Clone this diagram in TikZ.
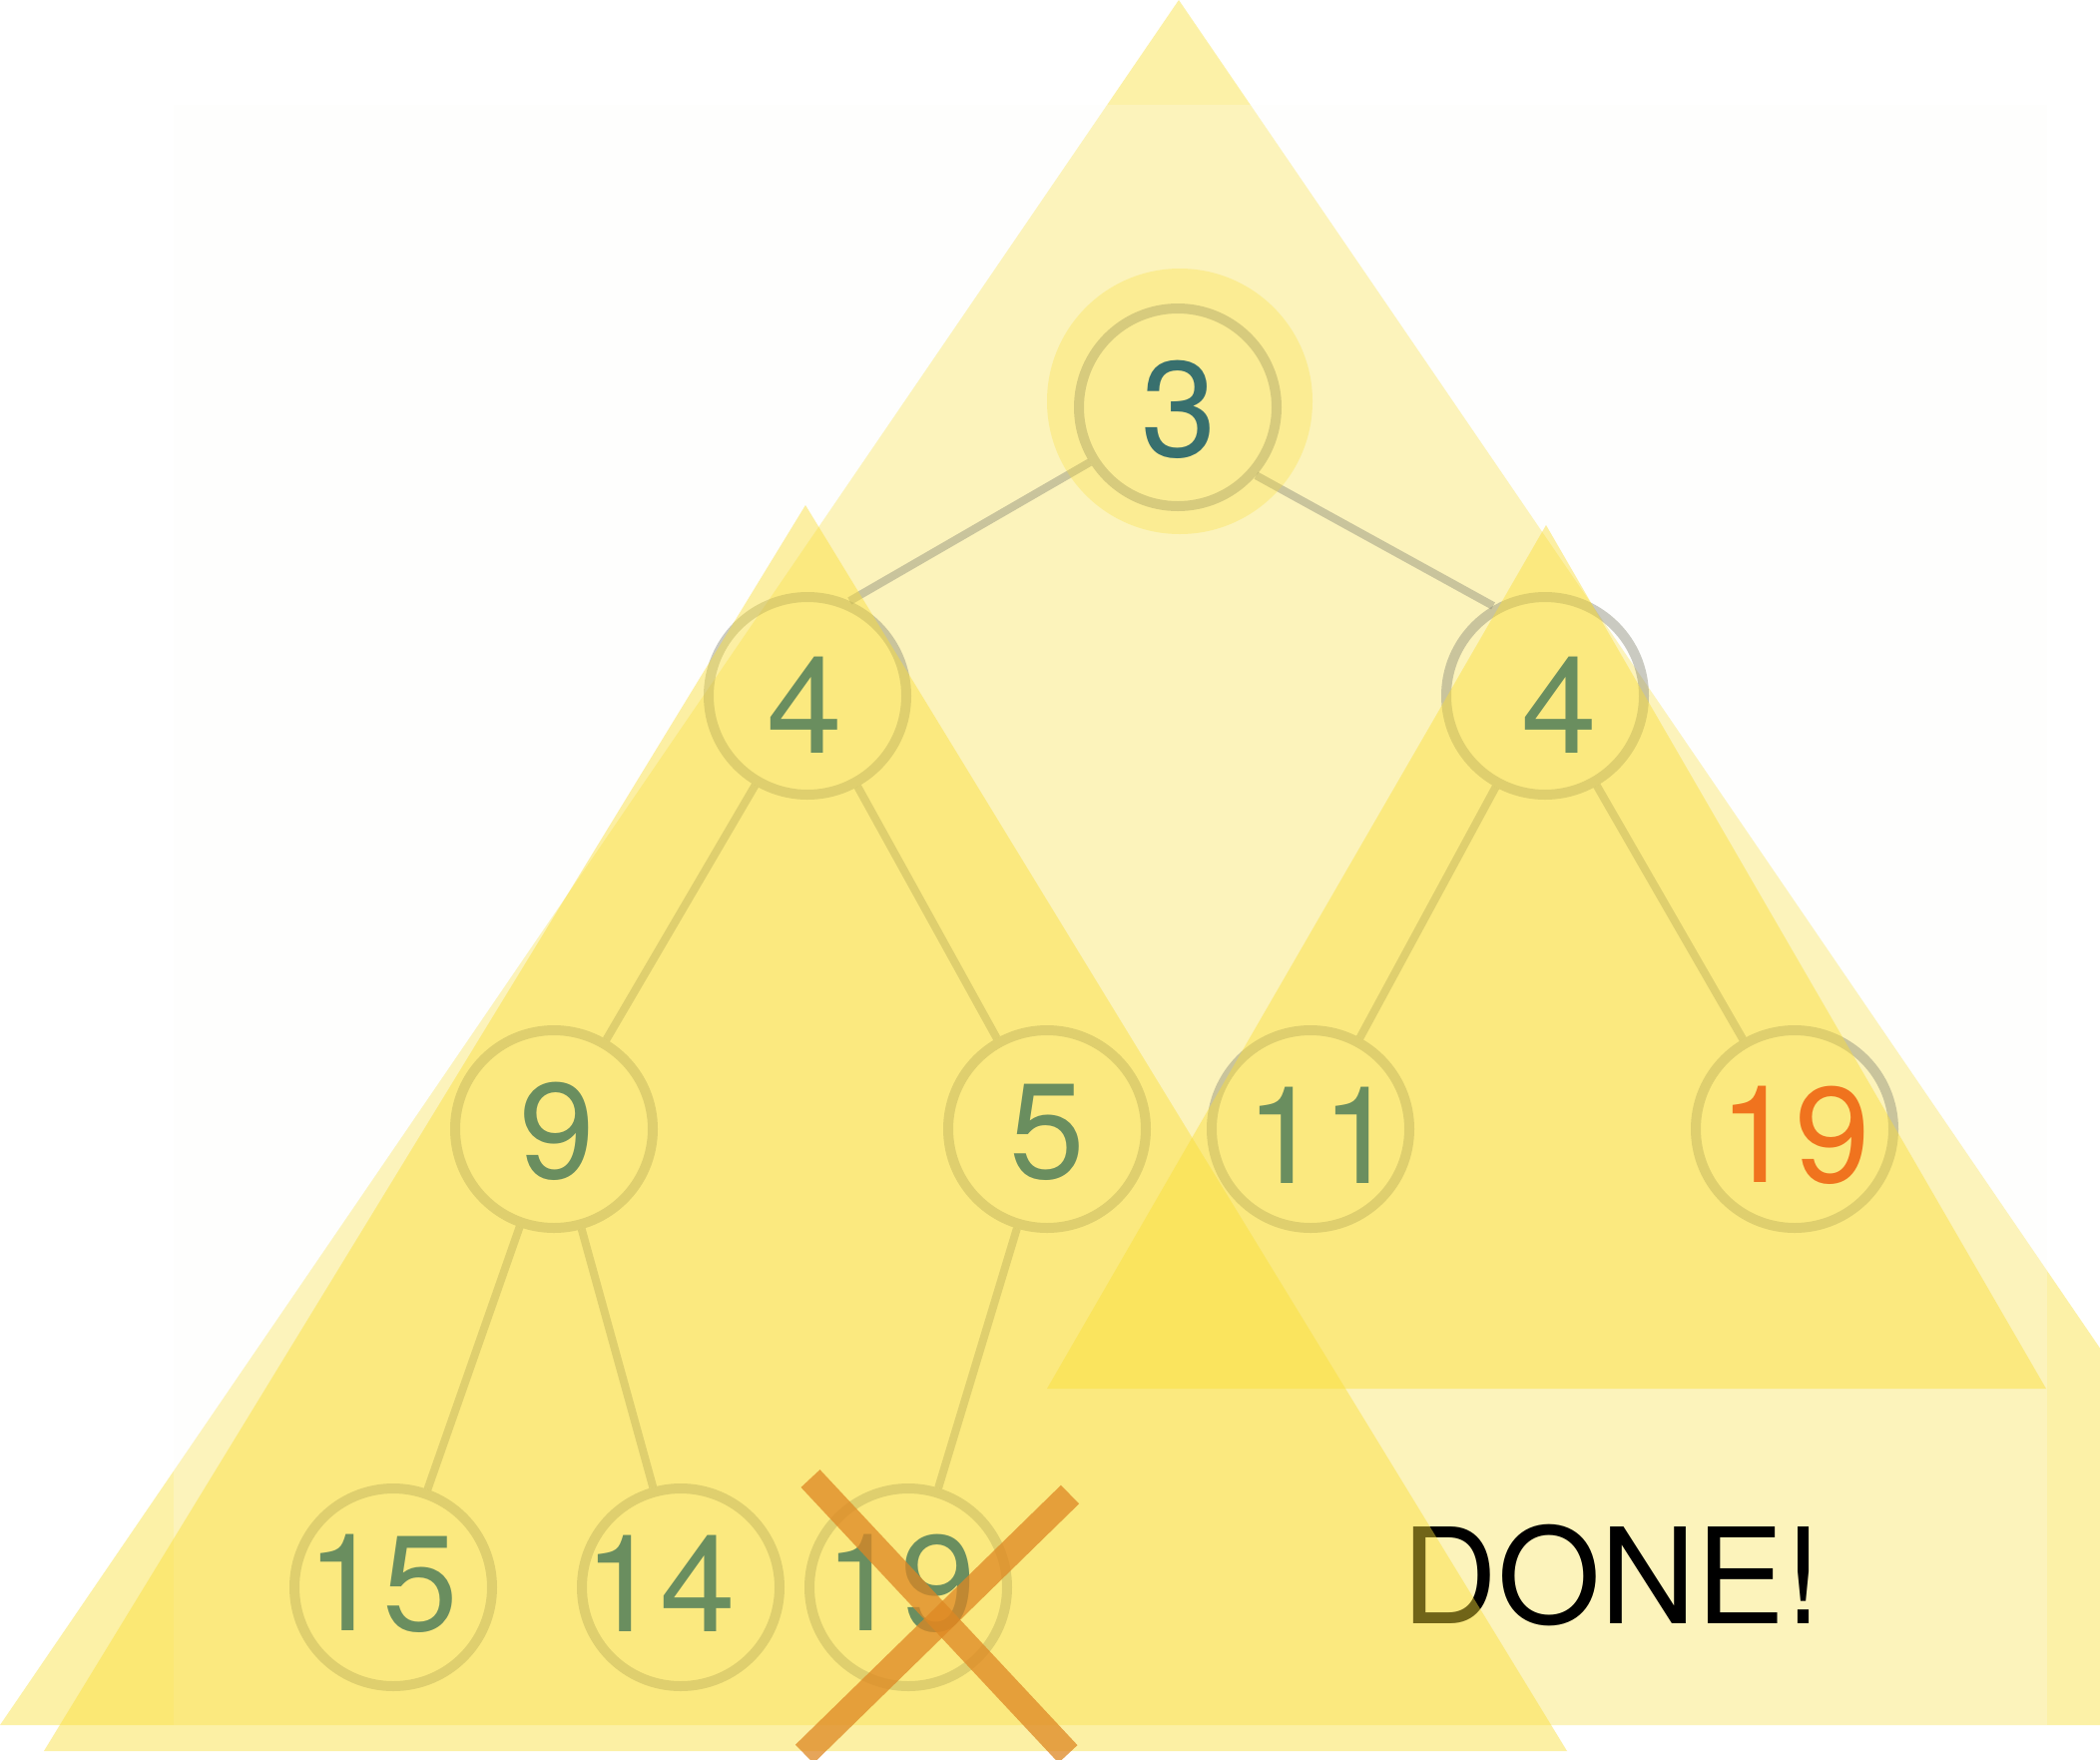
\documentclass[tikz,border=0pt]{standalone}
\usepackage{fontspec}
\setmainfont{TeX Gyre Heros}
\definecolor{triY}{RGB}{250,222,55}
\definecolor{bigY}{RGB}{250,228,80}
\definecolor{ringc}{RGB}{140,140,120}
\definecolor{numgreen}{RGB}{106,142,95}
\definecolor{numteal}{RGB}{56,112,110}
\definecolor{numorange}{RGB}{240,115,30}
\definecolor{xorange}{RGB}{222,135,35}
\definecolor{veil}{RGB}{252,252,250}
\begin{document}
\begin{tikzpicture}[x=0.5pt,y=-0.5pt,
  bigtri/.style={fill=bigY,fill opacity=0.5},
  veilbox/.style={fill=veil,fill opacity=0.25},
  subtri/.style={fill=triY,fill opacity=0.45},
  halo/.style={fill=triY,fill opacity=0.3},
  ringnode/.style={circle,draw=ringc,draw opacity=0.45,line width=5pt,minimum size=99pt,inner sep=0pt},
  edge/.style={draw=ringc,draw opacity=0.45,line width=4pt},
  num/.style={inner sep=0pt,font=\fontsize{68pt}{80pt}\selectfont},
  donetext/.style={inner sep=0pt,font=\fontsize{66.5pt}{80pt}\selectfont,text=black},
  xstroke/.style={draw=xorange,draw opacity=0.75,line width=13pt,line cap=butt}]
\useasboundingbox (0,0) rectangle (2104,1762);
\fill[white] (0,0) rectangle (2104,1762);
\clip (0,0) rectangle (2104,1762);
% big triangle and veil
\fill[bigtri] (1181,0) -- (0,1728) -- (2362,1728) -- cycle;
\fill[veilbox] (174,105) rectangle (2051,1728);
% rings
\node[ringnode] (n3) at (1180,408) {};
\node[ringnode] (n4L) at (809,697) {};
\node[ringnode] (n4R) at (1548,697) {};
\node[ringnode] (n9) at (555,1131) {};
\node[ringnode] (n5) at (1049,1131) {};
\node[ringnode] (n11) at (1313,1131) {};
\node[ringnode] (n19o) at (1798,1131) {};
\node[ringnode] (n15) at (394,1590) {};
\node[ringnode] (n14) at (682,1590) {};
\node[ringnode] (n19b) at (910,1590) {};
% edges
\draw[edge] (n3.212) -- (n4L.66);
\draw[edge] (n3.319) -- (n4R.120);
\draw[edge] (n4L) -- (n9);
\draw[edge] (n4L) -- (n5);
\draw[edge] (n4R) -- (n11);
\draw[edge] (n4R) -- (n19o);
\draw[edge] (n9) -- (n15);
\draw[edge] (n9) -- (n14);
\draw[edge] (n5) -- (n19b);
% DONE text
\node[donetext] (done) at (1615,1578) {DONE!};
% sub triangles and halo
\fill[subtri] (807,506) -- (44,1754) -- (1570,1754) -- cycle;
\fill[subtri] (1549,526) -- (1049,1391) -- (2050,1391) -- cycle;
\fill[halo] (1182,402) circle[radius=66.5pt];
% numbers
\node[num,text=numteal] (t3) at (1181,410) {3};
\node[num,text=numgreen] (t4L) at (806,706) {4};
\node[num,text=numgreen] (t4R) at (1562,706) {4};
\node[num,text=numgreen] (t9) at (558,1133) {9};
\node[num,text=numgreen] (t5) at (1049,1134) {5};
\node[num,text=numgreen] (t11) at (1324,1137) {11};
\node[num,text=numorange] (t19o) at (1798,1137) {19};
\node[num,text=numgreen] (t15) at (383,1586) {15};
\node[num,text=numgreen] (t14) at (661,1586) {14};
\node[num,text=numgreen] (t19b) at (902,1586) {19};
% cross
\coordinate (xa1) at (812,1481);
\coordinate (xa2) at (1070,1757);
\coordinate (xb1) at (1072,1497);
\coordinate (xb2) at (806,1757);
\draw[xstroke] (xa1) -- (xa2);
\draw[xstroke] (xb1) -- (xb2);
\end{tikzpicture}
\end{document}
